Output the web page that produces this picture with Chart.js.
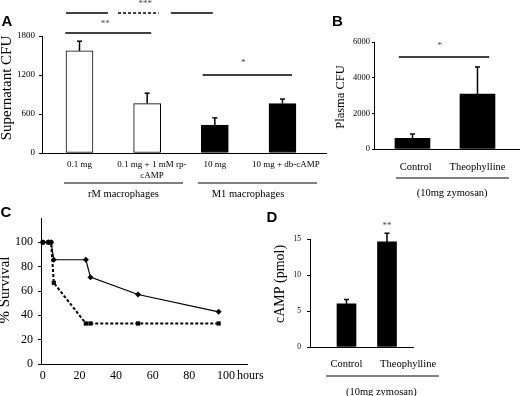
<!DOCTYPE html>
<html><head><meta charset="utf-8">
<script src="https://cdn.jsdelivr.net/npm/chart.js@4"></script>
<style>
html,body{margin:0;padding:0;background:#fff;}
#wrap{position:relative;width:520px;height:396px;overflow:hidden;background:#fff;}
#wrap canvas{position:absolute;left:0;top:0;}
</style>
</head><body><div id="wrap"></div>
<script>
// ---------- data ----------
const aLabels = [["0.1 mg"], ["0.1 mg + 1 mM rp-", "cAMP"], ["10 mg"], ["10 mg + db-cAMP"]];
const aValues = [1570, 760, 430, 760];
const aErrors = [150, 160, 110, 70];
const aGroups = ["rM macrophages", "M1 macrophages"];
const aYTicks = [0, 600, 1200, 1800];
const aStars = ["**", "***", "*"];

const bLabels = ["Control", "Theophylline"];
const bValues = [600, 3080];
const bErrors = [240, 1520];
const bYTicks = [0, 2000, 4000, 6000];
const bStars = ["*"];
const bGroup = "(10mg zymosan)";

const cHours = [0, 3, 4.5, 6, 23.5, 26, 52, 96];
const cSurvivalSolid = [100, 100, 100, 85.7, 85.7, 71.4, 57.1, 42.9];
const cSurvivalDashed = [100, 100, 100, 66.7, 33.3, 33.3, 33.3, 33.3];
const cXTicks = [0, 20, 40, 60, 80, 100];
const cYTicks = [0, 20, 40, 60, 80, 100];
const cXUnit = "hours";

const dLabels = ["Control", "Theophylline"];
const dValues = [6.0, 14.6];
const dErrors = [0.6, 1.2];
const dYTicks = [0, 5, 10, 15];
const dStars = ["**"];
const dGroup = "(10mg zymosan)";

// ---------- helpers ----------
const W = 520, H = 396;
const SERIF = "'Liberation Serif', 'Times New Roman', serif";
const SANS = "'Liberation Sans', Arial, sans-serif";
Chart.defaults.font.family = SERIF;
Chart.defaults.color = '#000';

function newCtx() {
  const c = document.createElement('canvas');
  c.width = W; c.height = H; c.style.width = W + 'px'; c.style.height = H + 'px';
  document.getElementById('wrap').appendChild(c);
  return c.getContext('2d');
}
function layoutFor(area, yW, xH) {
  return { padding: { left: area.l - yW, top: area.t, right: W - area.r, bottom: H - area.b - xH } };
}
function txt(ctx, s, x, y, size, o = {}) {
  ctx.save();
  ctx.font = (o.bold ? 'bold ' : '') + size + 'px ' + (o.family || SERIF);
  ctx.fillStyle = o.color || '#000';
  ctx.textAlign = o.align || 'center';
  ctx.textBaseline = 'middle';
  if (o.rotate) { ctx.translate(x, y); ctx.rotate(o.rotate); ctx.fillText(s, 0, 0); }
  else ctx.fillText(s, x, y);
  ctx.restore();
}
function ln(ctx, x1, y1, x2, y2, w = 1, dash = []) {
  ctx.save();
  ctx.strokeStyle = '#000'; ctx.lineWidth = w; ctx.setLineDash(dash);
  ctx.beginPath(); ctx.moveTo(x1, y1); ctx.lineTo(x2, y2); ctx.stroke();
  ctx.restore();
}
function errorBars(chart, values, errors, cap) {
  const ctx = chart.ctx, meta = chart.getDatasetMeta(0), ys = chart.scales.y;
  meta.data.forEach((el, i) => {
    const y0 = ys.getPixelForValue(values[i]);
    const y1 = ys.getPixelForValue(values[i] + errors[i]);
    ln(ctx, el.x, y0, el.x, y1, 1.5);
    ln(ctx, el.x - cap, y1, el.x + cap, y1, 1.5);
  });
}
function yAxis(ticks, max, size, tl, pad, w) {
  return {
    type: 'linear', min: 0, max: max,
    afterFit(s) { s.width = w; },
    afterBuildTicks(s) { s.ticks = ticks.map(v => ({ value: v })); },
    grid: { drawOnChartArea: false, drawTicks: true, tickLength: tl, color: '#000', lineWidth: 1 },
    border: { display: true, color: '#000', width: 1 },
    ticks: { font: { size: size }, padding: pad, color: '#000', callback: v => String(v) }
  };
}
// labelAt: where (in category units) each label is centred
function xAxisCat(labels, labelAt, min, max, size, pad, h) {
  return {
    type: 'linear', min: min, max: max, offset: false, bounds: 'data',
    afterFit(s) { s.height = h; },
    afterDataLimits(s) { s.min = min; s.max = max; },
    afterBuildTicks(s) { s.ticks = labels.map((l, i) => ({ value: labelAt[i] })); },
    grid: { drawOnChartArea: false, drawTicks: false, offset: false },
    border: { display: true, color: '#000', width: 1 },
    ticks: { font: { size: size, lineHeight: 1.2 }, padding: pad, color: '#000', autoSkip: false, maxRotation: 0,
             callback: (v, i) => labels[i] }
  };
}
const common = {
  responsive: false, animation: false, devicePixelRatio: 1,
  plugins: { legend: { display: false }, tooltip: { enabled: false }, title: { display: false } },
  events: []
};

// ---------- Panel A ----------
const areaA = { l: 42, r: 326, t: 36, b: 153 };
new Chart(newCtx(), {
  type: 'bar',
  data: { datasets: [{
    data: aValues.map((v, i) => ({ x: i + 1, y: v })),
    backgroundColor: ['#fff', '#fff', '#000', '#000'],
    borderColor: '#000', borderWidth: 1, barThickness: 27, borderSkipped: false
  }] },
  options: Object.assign({}, common, {
    layout: layoutFor(areaA, 36, 40),
    scales: {
      x: xAxisCat(aLabels, [1, 2.07, 3, 4.05], 0.446, 4.643, 9, 6, 40),
      y: yAxis(aYTicks, 1800, 9, 3, 4, 36)
    }
  }),
  plugins: [{ id: 'decoA', afterDraw(chart) {
    const ctx = chart.ctx, xs = chart.scales.x, ys = chart.scales.y, b = chart.chartArea.bottom;
    const X = v => xs.getPixelForValue(v), Y = v => ys.getPixelForValue(v);
    errorBars(chart, aValues, aErrors, 2.5);
    ln(ctx, X(0.79), Y(1846), X(2.06), Y(1846), 1.3);
    txt(ctx, aStars[0], X(1.38), Y(1990), 9, { color: '#444' });
    ln(ctx, X(0.80), Y(2154), X(1.42), Y(2154), 1.3);
    ln(ctx, X(1.57), Y(2154), X(2.17), Y(2154), 1.3, [3, 2]);
    ln(ctx, X(2.35), Y(2154), X(2.97), Y(2154), 1.3);
    txt(ctx, aStars[1], X(1.97), Y(2300), 9, { color: '#444' });
    ln(ctx, X(2.82), Y(1200), X(4.14), Y(1200), 1.3);
    txt(ctx, aStars[2], X(3.42), Y(1385), 9, { color: '#444' });
    ln(ctx, X(0.77), b + 30, X(2.53), b + 30, 1);
    ln(ctx, X(2.75), b + 30, X(4.51), b + 30, 1);
    txt(ctx, aGroups[0], X(1.65), b + 41, 10.5);
    txt(ctx, aGroups[1], X(3.49), b + 41, 10.5);
    txt(ctx, 'Supernatant CFU', 7, 88, 15, { rotate: -Math.PI / 2 });
    txt(ctx, 'A', 7, 22, 15, { bold: true, family: SANS });
  } }]
});

// ---------- Panel B ----------
const areaB = { l: 374, r: 520, t: 42, b: 149 };
new Chart(newCtx(), {
  type: 'bar',
  data: { datasets: [{
    data: bValues.map((v, i) => ({ x: i + 1, y: v })),
    backgroundColor: '#000', borderColor: '#000', borderWidth: 0, barThickness: 35
  }] },
  options: Object.assign({}, common, {
    layout: layoutFor(areaB, 30, 30),
    scales: {
      x: xAxisCat(bLabels, [1.05, 2], 0.408, 2.654, 10.5, 12, 30),
      y: yAxis(bYTicks, 6000, 8.5, 2, 2, 30)
    }
  }),
  plugins: [{ id: 'decoB', afterDraw(chart) {
    const ctx = chart.ctx, xs = chart.scales.x, ys = chart.scales.y, b = chart.chartArea.bottom;
    const X = v => xs.getPixelForValue(v), Y = v => ys.getPixelForValue(v);
    errorBars(chart, bValues, bErrors, 2.5);
    ln(ctx, X(0.79), Y(5160), X(2.18), Y(5160), 1.3);
    txt(ctx, bStars[0], X(1.42), Y(5800), 9, { color: '#444' });
    ln(ctx, X(0.746), b + 29, X(2.485), b + 29, 1);
    txt(ctx, bGroup, X(1.61), b + 44, 10.5);
    txt(ctx, 'Plasma CFU', 341, 97, 12.5, { rotate: -Math.PI / 2 });
    txt(ctx, 'B', 337.5, 22, 15, { bold: true, family: SANS });
  } }]
});

// ---------- Panel C ----------
const areaC = { l: 41, r: 247, t: 218, b: 364 };
new Chart(newCtx(), {
  type: 'line',
  data: { datasets: [
    { data: cHours.map((h, i) => ({ x: h, y: cSurvivalDashed[i] })),
      borderColor: '#000', borderWidth: 2, borderDash: [3, 2], pointStyle: 'rect', pointRadius: 3,
      pointBackgroundColor: '#000', pointBorderColor: '#000', pointBorderWidth: 0, tension: 0, clip: false, fill: false },
    { data: cHours.map((h, i) => ({ x: h, y: cSurvivalSolid[i] })),
      borderColor: '#000', borderWidth: 1.2, pointStyle: 'rectRot', pointRadius: 3,
      pointBackgroundColor: '#000', pointBorderColor: '#000', pointBorderWidth: 0, tension: 0, clip: false, fill: false }
  ] },
  options: Object.assign({}, common, {
    layout: layoutFor(areaC, 35, 30),
    scales: {
      x: { type: 'linear', min: -1, max: 111.5,
           afterFit(s) { s.height = 30; },
           afterBuildTicks(s) { s.ticks = cXTicks.map(v => ({ value: v })); },
           grid: { drawOnChartArea: false, drawTicks: false },
           border: { display: true, color: '#000', width: 1 },
           ticks: { font: { size: 12 }, padding: 5, color: '#000', autoSkip: false, maxRotation: 0 } },
      y: yAxis(cYTicks, 120, 12, 3, 5, 35)
    }
  }),
  plugins: [{ id: 'decoC', afterDraw(chart) {
    const xs = chart.scales.x, b = chart.chartArea.bottom;
    txt(chart.ctx, cXUnit, xs.getPixelForValue(100) + 11, b + 12.2, 12, { align: 'left' });
    txt(chart.ctx, '% Survival', 5, 290, 15, { rotate: -Math.PI / 2 });
    txt(chart.ctx, 'C', 6, 213, 15, { bold: true, family: SANS });
  } }]
});

// ---------- Panel D ----------
const areaD = { l: 310, r: 413, t: 239, b: 347 };
new Chart(newCtx(), {
  type: 'bar',
  data: { datasets: [{
    data: dValues.map((v, i) => ({ x: i + 1, y: v })),
    backgroundColor: '#000', borderColor: '#000', borderWidth: 0, barThickness: 19
  }] },
  options: Object.assign({}, common, {
    layout: layoutFor(areaD, 20, 30),
    scales: {
      x: xAxisCat(dLabels, [1, 2.52], 0.099, 2.642, 10.5, 11, 30),
      y: yAxis(dYTicks, 15, 7.5, 3, 6, 20)
    }
  }),
  plugins: [{ id: 'decoD', afterDraw(chart) {
    const ctx = chart.ctx, xs = chart.scales.x, ys = chart.scales.y, b = chart.chartArea.bottom;
    const X = v => xs.getPixelForValue(v), Y = v => ys.getPixelForValue(v);
    errorBars(chart, dValues, dErrors, 2.5);
    txt(ctx, dStars[0], X(2), Y(16.8), 9, { color: '#444' });
    ln(ctx, X(0.494), b + 29, X(3.28), b + 29, 1);
    txt(ctx, dGroup, X(1.86), b + 45, 10.5);
    txt(ctx, 'cAMP (pmol)', 280, 284, 14, { rotate: -Math.PI / 2 });
    txt(ctx, 'D', 272, 218, 15, { bold: true, family: SANS });
  } }]
});
</script>
</body></html>
